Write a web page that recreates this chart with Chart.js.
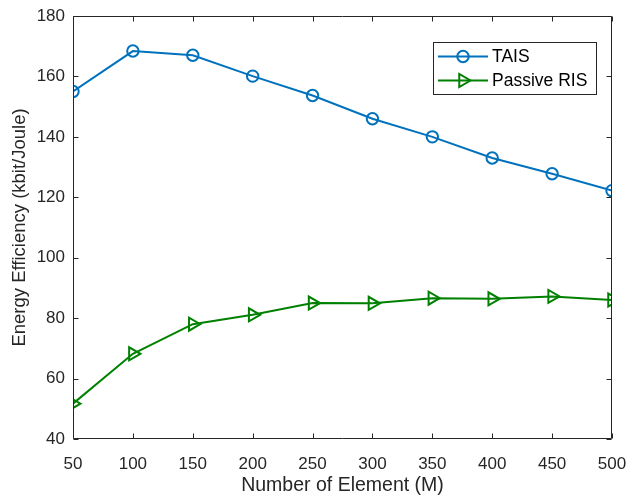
<!DOCTYPE html>
<html><head><meta charset="utf-8">
<script src="https://cdn.jsdelivr.net/npm/chart.js@4"></script>
<style>html,body{margin:0;padding:0;background:#fff}#wrap{width:632px;height:497px}</style>
</head><body><div id="wrap"><canvas id="c" width="632" height="497"></canvas></div>
<script>
const elements = [50,100,150,200,250,300,350,400,450,500];
const taisValues = [155.0,168.4,167.0,160.1,153.7,146.0,140.0,133.0,127.8,122.2];
const passiveValues = [51.7,68.2,78.0,81.1,85.0,84.9,86.6,86.4,87.2,86.0];
const yTicks = [40,60,80,100,120,140,160,180];
const xTicks = [50,100,150,200,250,300,350,400,450,500];

const FONT = '"Liberation Sans", Arial, Helvetica, sans-serif';
const axisColor = '#262626';

const boxPlugin = {
  id: 'box',
  afterDraw(chart) {
    const ctx = chart.ctx, a = chart.chartArea;
    const xs = chart.scales.x, ys = chart.scales.y;
    ctx.save();
    ctx.strokeStyle = axisColor; ctx.lineWidth = 1;
    const L = Math.round(a.left)+0.5, R = Math.round(a.right)-0.5, T = Math.round(a.top)+0.5, B = Math.round(a.bottom)-0.5;
    ctx.beginPath(); ctx.rect(L, T, R-L, B-T); ctx.stroke();
    const tl = 5;
    ctx.beginPath();
    xTicks.forEach(v => {
      const px = Math.round(xs.getPixelForValue(v))+0.5;
      ctx.moveTo(px, B); ctx.lineTo(px, B-tl);
      ctx.moveTo(px, T); ctx.lineTo(px, T+tl);
    });
    yTicks.forEach(v => {
      const py = Math.round(ys.getPixelForValue(v))+0.5;
      ctx.moveTo(L, py); ctx.lineTo(L+tl, py);
      ctx.moveTo(R, py); ctx.lineTo(R-tl, py);
    });
    ctx.stroke();
    // legend
    const lx = 433.5, ly = 42.5, lw = 163, lh = 52;
    ctx.fillStyle = '#fff';
    ctx.fillRect(lx, ly, lw, lh);
    ctx.strokeRect(lx, ly, lw, lh);
    const rows = [56.5, 80.5];
    chart.data.datasets.forEach((ds, i) => {
      const y = rows[i];
      ctx.strokeStyle = ds.borderColor; ctx.lineWidth = 2;
      ctx.beginPath(); ctx.moveTo(438, y); ctx.lineTo(488, y); ctx.stroke();
      ctx.fillStyle = 'rgba(0,0,0,0)';
      Chart.helpers.drawPoint(ctx, {pointStyle: ds.pointStyle, rotation: ds.pointRotation || 0, radius: ds.pointRadius, borderWidth: 2}, 463, y);
      ctx.fillStyle = '#000';
      ctx.font = '17.5px ' + FONT;
      ctx.textBaseline = 'middle'; ctx.textAlign = 'left';
      ctx.fillText(ds.label, 492, y+1);
    });
    ctx.restore();
  }
};

new Chart(document.getElementById('c'), {
  type: 'line',
  data: {
    labels: elements,
    datasets: [
      {label: 'TAIS', data: elements.map((x,i)=>({x, y: taisValues[i]})), borderColor: '#0072BD', backgroundColor: 'rgba(0,0,0,0)',
       borderWidth: 2, pointStyle: 'circle', pointRadius: 5.7, pointBorderWidth: 2, pointBackgroundColor: 'rgba(0,0,0,0)', tension: 0},
      {label: 'Passive RIS', data: elements.map((x,i)=>({x, y: passiveValues[i]})), borderColor: '#008000', backgroundColor: 'rgba(0,0,0,0)',
       borderWidth: 2, pointStyle: 'triangle', pointRotation: 90, pointRadius: 7.5, pointBorderWidth: 2, pointBackgroundColor: 'rgba(0,0,0,0)', tension: 0}
    ]
  },
  options: {
    responsive: false, animation: false, devicePixelRatio: 1,
    layout: {padding: {top: 16, right: 0, left: 0, bottom: 0}},
    plugins: {legend: {display: false}, tooltip: {enabled: false}},
    elements: {point: {hoverRadius: 6}},
    scales: {
      x: {
        type: 'linear', min: 50, max: 500,
        afterBuildTicks: s => { s.ticks = xTicks.map(v => ({value: v})); },
        afterFit: s => { s.height = 58; s.paddingRight = 20; s.paddingLeft = 0; },
        grid: {display: false, drawTicks: false},
        border: {display: false},
        ticks: {color: '#262626', font: {family: FONT, size: 17}, padding: 15, maxRotation: 0, autoSkip: false},
        title: {display: true, text: 'Number of Element (M)', color: '#262626', font: {family: FONT, size: 19.5}, padding: {top: 0, bottom: 0}}
      },
      y: {
        type: 'linear', min: 40, max: 180,
        afterBuildTicks: s => { s.ticks = yTicks.map(v => ({value: v})); },
        afterFit: s => { s.width = 73; s.paddingTop = 0; s.paddingBottom = 0; },
        grid: {display: false, drawTicks: false},
        border: {display: false},
        ticks: {color: '#262626', font: {family: FONT, size: 17}, padding: 8, autoSkip: false},
        title: {display: true, text: 'Energy Efficiency (kbit/Joule)', color: '#262626', font: {family: FONT, size: 18.5}, padding: {top: 9, bottom: 0}}
      }
    }
  },
  plugins: [boxPlugin]
});
</script>
</body></html>
